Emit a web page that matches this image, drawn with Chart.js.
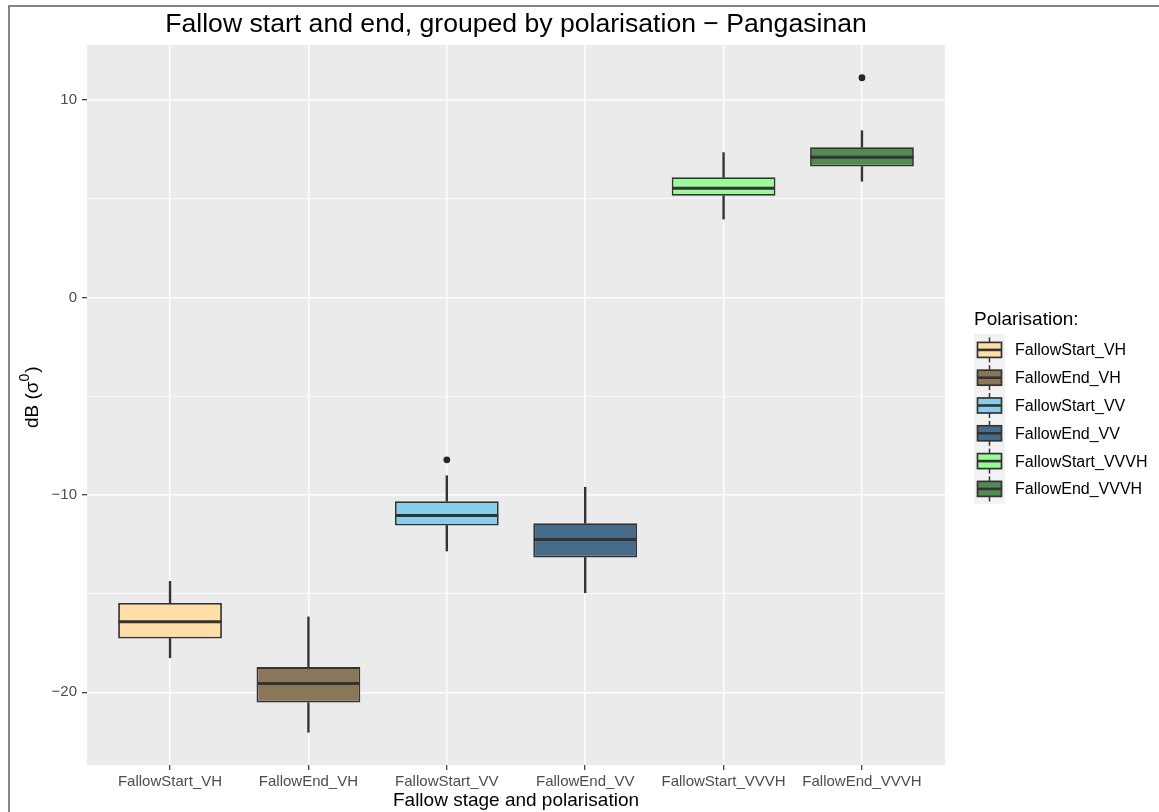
<!DOCTYPE html>
<html>
<head>
<meta charset="utf-8">
<script src="https://cdn.jsdelivr.net/npm/chart.js@4.4.1/dist/chart.umd.min.js"></script>
<style>
  html, body { margin: 0; padding: 0; background: #ffffff; }
  #wrap { width: 1159px; height: 812px; position: relative; }
</style>
</head>
<body>
<div id="wrap"><canvas id="chart" width="1159" height="812"></canvas></div>
<script>
// Boxplot summaries per fallow stage / polarisation (dB)
const categories  = ['FallowStart_VH', 'FallowEnd_VH', 'FallowStart_VV', 'FallowEnd_VV', 'FallowStart_VVVH', 'FallowEnd_VVVH'];
const whiskerLow  = [-18.25, -22.02, -12.84, -14.95, 3.97, 5.89];
const q1          = [-17.27, -20.52, -11.55, -13.17, 5.15, 6.63];
const median      = [-16.43, -19.55, -11.04, -12.26, 5.54, 7.11];
const q3          = [-15.47, -18.72, -10.32, -11.43, 6.09, 7.61];
const whiskerHigh = [-14.38, -16.18, -9.03, -9.61, 7.34, 8.45];
// outliers: category position (1-based) and value
const outlierPos  = [3, 6];
const outlierVal  = [-8.22, 11.13];
const fillColors  = ['#FFDEA8', '#8A775A', '#87CEEB', '#476C8A', '#98FB98', '#528A52'];
const yTicks      = [-20, -15, -10, -5, 0, 5, 10];

const FONT = "'Liberation Sans', Arial, Helvetica, sans-serif";
const LINE = '#333333';

const boxData   = categories.map((c, i) => ({ x: i + 1, y: [q1[i], q3[i]] }));
const lowData   = categories.map((c, i) => ({ x: i + 1, y: [whiskerLow[i], q1[i]] }));
const highData  = categories.map((c, i) => ({ x: i + 1, y: [q3[i], whiskerHigh[i]] }));
const outliers  = outlierPos.map((p, i) => ({ x: p, y: outlierVal[i] }));

const isMajor = v => Math.abs(v % 10) < 1e-9;
const fmt = v => (v < 0 ? '\u2212' + Math.abs(v) : String(v));

// panel background, medians, titles, legend and frame
const decor = {
  id: 'decor',
  beforeDraw(chart) {
    const { ctx, chartArea: a } = chart;
    ctx.save();
    ctx.fillStyle = '#EBEBEB';
    ctx.fillRect(a.left, a.top, a.right - a.left, a.bottom - a.top);
    ctx.restore();
  },
  afterDatasetsDraw(chart) {
    const { ctx } = chart;
    const y = chart.scales.y;
    const meta = chart.getDatasetMeta(0);
    ctx.save();
    ctx.strokeStyle = LINE;
    ctx.lineWidth = 3;
    meta.data.forEach((el, i) => {
      const py = y.getPixelForValue(median[i]);
      ctx.beginPath();
      ctx.moveTo(el.x - el.width / 2 + 0.5, py);
      ctx.lineTo(el.x + el.width / 2 - 0.5, py);
      ctx.stroke();
    });
    ctx.restore();
  },
  afterDraw(chart) {
    const { ctx, chartArea: a } = chart;
    const cx = (a.left + a.right) / 2;
    ctx.save();
    // frame
    ctx.strokeStyle = '#858585';
    ctx.lineWidth = 2;
    ctx.beginPath();
    ctx.moveTo(9, 812);
    ctx.lineTo(9, 6);
    ctx.lineTo(1159, 6);
    ctx.stroke();

    // title
    ctx.fillStyle = '#000';
    ctx.textAlign = 'center';
    ctx.textBaseline = 'alphabetic';
    ctx.font = '26.6px ' + FONT;
    ctx.fillText('Fallow start and end, grouped by polarisation \u2212 Pangasinan', cx, 32);

    // x axis title
    ctx.font = '19px ' + FONT;
    ctx.fillText('Fallow stage and polarisation', cx, 806);

    // y axis title with superscript
    ctx.save();
    ctx.translate(38, 398);
    ctx.rotate(-Math.PI / 2);
    ctx.textAlign = 'left';
    const main = 'dB (\u03C3';
    ctx.font = '19px ' + FONT;
    const w1 = ctx.measureText(main).width;
    ctx.font = '14px ' + FONT;
    const w2 = ctx.measureText('0').width;
    const total = w1 + w2 + ctx.measureText(')').width + 1;
    const x0 = -total / 2;
    ctx.font = '19px ' + FONT;
    ctx.fillText(main, x0, 0);
    ctx.font = '14px ' + FONT;
    ctx.fillText('0', x0 + w1, -9);
    ctx.font = '19px ' + FONT;
    ctx.fillText(')', x0 + w1 + w2 + 1, 0);
    ctx.restore();

    // legend
    ctx.textAlign = 'left';
    ctx.font = '19px ' + FONT;
    ctx.fillStyle = '#000';
    ctx.fillText('Polarisation:', 974, 325);
    const top = 336, rowH = 27.8, kx = 974, kw = 31;
    ctx.fillStyle = '#F2F2F2';
    ctx.fillRect(kx, top - 2, kw, rowH * categories.length + 3);
    categories.forEach((c, i) => {
      const yc = top + rowH * i + rowH / 2;
      const mx = kx + kw / 2;
      ctx.strokeStyle = LINE;
      ctx.lineWidth = 1.5;
      ctx.beginPath();
      ctx.moveTo(mx, yc - 12.5);
      ctx.lineTo(mx, yc + 12.5);
      ctx.stroke();
      ctx.fillStyle = fillColors[i];
      ctx.fillRect(kx + 3.5, yc - 7.5, kw - 7, 15);
      ctx.lineWidth = 1.7;
      ctx.strokeRect(kx + 3.5, yc - 7.5, kw - 7, 15);
      ctx.lineWidth = 2.6;
      ctx.beginPath();
      ctx.moveTo(kx + 3.5, yc);
      ctx.lineTo(kx + kw - 3.5, yc);
      ctx.stroke();
      ctx.fillStyle = '#000';
      ctx.font = '16px ' + FONT;
      ctx.textBaseline = 'middle';
      ctx.fillText(c, 1015, yc + 1);
      ctx.textBaseline = 'alphabetic';
    });
    ctx.restore();
  }
};

new Chart(document.getElementById('chart'), {
  type: 'bar',
  data: {
    datasets: [
      {
        label: 'box',
        data: boxData,
        backgroundColor: fillColors,
        borderColor: LINE,
        borderWidth: 1.8,
        borderSkipped: false,
        categoryPercentage: 0.75,
        barPercentage: 1,
        grouped: false,
        order: 1
      },
      {
        label: 'lower whisker',
        data: lowData,
        backgroundColor: LINE,
        barThickness: 1.7,
        grouped: false,
        order: 2
      },
      {
        label: 'upper whisker',
        data: highData,
        backgroundColor: LINE,
        barThickness: 1.7,
        grouped: false,
        order: 2
      },
      {
        type: 'scatter',
        label: 'outliers',
        data: outliers,
        backgroundColor: '#262626',
        borderWidth: 0,
        pointRadius: 3.4,
        order: 0
      }
    ]
  },
  options: {
    responsive: false,
    animation: false,
    layout: { padding: { left: 0, top: 45, right: 214, bottom: 0 } },
    plugins: { legend: { display: false }, tooltip: { enabled: false }, title: { display: false } },
    scales: {
      x: {
        type: 'linear',
        offset: false,
        min: 0.4,
        max: 6.6,
        afterBuildTicks: s => { s.ticks = categories.map((c, i) => ({ value: i + 1 })); },
        afterFit: s => { s.height = 47; },
        ticks: {
          callback: v => categories[Math.round(v) - 1],
          font: { family: FONT, size: 15 },
          color: '#4D4D4D',
          padding: 3,
          maxRotation: 0,
          autoSkip: false
        },
        grid: { offset: false, color: '#FFFFFF', lineWidth: 1.4, tickColor: '#333333', tickLength: 5, tickWidth: 1.2 },
        border: { display: false }
      },
      y: {
        type: 'linear',
        min: -23.68,
        max: 12.79,
        afterBuildTicks: s => { s.ticks = yTicks.map(v => ({ value: v })); },
        afterFit: s => { s.width = 87; },
        ticks: {
          callback: v => (isMajor(v) ? fmt(v) : ''),
          font: { family: FONT, size: 15 },
          color: '#4D4D4D',
          padding: 5
        },
        grid: {
          color: '#FFFFFF',
          lineWidth: c => (isMajor(c.tick.value) ? 1.4 : 0.7),
          tickColor: c => (isMajor(c.tick.value) ? '#333333' : 'rgba(0,0,0,0)'),
          tickLength: 5,
          tickWidth: 1.2
        },
        border: { display: false }
      }
    }
  },
  plugins: [decor]
});
</script>
</body>
</html>
